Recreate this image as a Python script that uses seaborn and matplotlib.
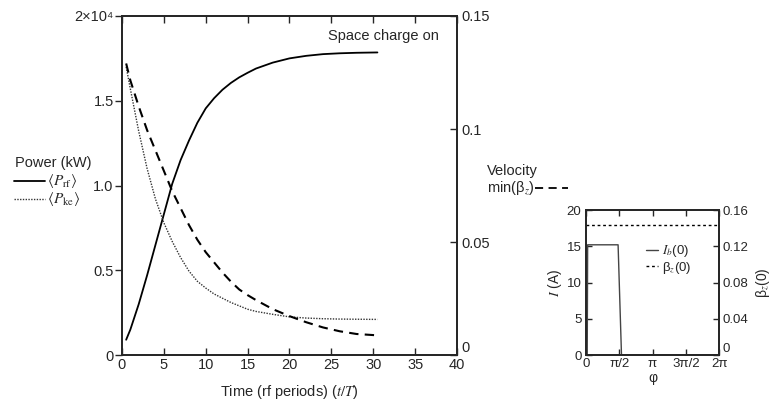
import numpy as np
import matplotlib
matplotlib.use("Agg")
import matplotlib.pyplot as plt
from matplotlib.lines import Line2D
import seaborn as sns

# Time in rf periods
t_rf = [0.5, 1.0, 2.0, 3.0, 4.0, 5.0, 6.0, 7.0, 8.0, 9.0, 10.0, 11.0, 12.0,
        13.0, 14.0, 15.0, 16.0, 18.0, 20.0, 22.0, 24.0, 26.0, 28.0, 30.5]
# <P_rf> in units of 10^4 kW
p_rf = [0.09, 0.15, 0.30, 0.47, 0.65, 0.83, 1.01, 1.15, 1.265, 1.37, 1.455, 1.515,
        1.565, 1.605, 1.638, 1.665, 1.69, 1.725, 1.75, 1.765, 1.775, 1.78, 1.783, 1.785]
# <P_ke> in units of 10^4 kW
p_ke = [1.70, 1.57, 1.32, 1.10, 0.92, 0.78, 0.67, 0.575, 0.495, 0.435, 0.395, 0.36,
        0.335, 0.31, 0.29, 0.27, 0.257, 0.24, 0.225, 0.218, 0.214, 0.212, 0.211, 0.21]
# min(beta_z)
beta_min = [0.129, 0.1215, 0.110, 0.0995, 0.0905, 0.0815, 0.0725, 0.065, 0.0575,
            0.051, 0.0455, 0.041, 0.0365, 0.0325, 0.029, 0.0265, 0.0243, 0.0203,
            0.0172, 0.0145, 0.0122, 0.0105, 0.0093, 0.0087]

# Initial beam current and velocity versus phase
phi_beam = [0.0, 0.07, 0.09, 1.52, 1.68, 2 * np.pi]
i_beam = [0.0, 0.0, 15.2, 15.2, 0.0, 0.0]
phi_beta = [0.0, 2 * np.pi]
beta_z0 = [0.143, 0.143]

time_ticks = [0, 5, 10, 15, 20, 25, 30, 35, 40]
power_ticks = [0, 0.5, 1.0, 1.5, 2.0]
power_labels = ["0", "0.5", "1.0", "1.5", "2×10⁴"]
vel_ticks = [0, 0.05, 0.1, 0.15]
vel_labels = ["0", "0.05", "0.1", "0.15"]
phi_ticks = [0, np.pi / 2, np.pi, 3 * np.pi / 2, 2 * np.pi]
phi_labels = ["0", "π/2", "π", "3π/2", "2π"]
cur_ticks = [0, 5, 10, 15, 20]
beta_ticks = [0, 0.04, 0.08, 0.12, 0.16]
beta_labels = ["0", "0.04", "0.08", "0.12", "0.16"]

sns.set_style("ticks")
plt.rcParams["font.family"] = ["Liberation Sans", "DejaVu Sans"]
plt.rcParams["mathtext.fontset"] = "stix"
plt.rcParams["axes.linewidth"] = 1.3

fig = plt.figure(figsize=(7.71, 4.03), dpi=100)

# ---- main panel ----
ax = fig.add_axes([0.1582, 0.1191, 0.4345, 0.8412])
ax2 = ax.twinx()

sns.lineplot(x=t_rf, y=p_rf, ax=ax, color="black", linewidth=1.3, estimator=None)
sns.lineplot(x=t_rf, y=p_ke, ax=ax, color="#333333", linewidth=1.0,
             linestyle=(0, (1, 1)), estimator=None)
sns.lineplot(x=t_rf, y=beta_min, ax=ax2, color="black", linewidth=1.5,
             linestyle=(0, (4.5, 3)), estimator=None)

ax.set_xlim(0, 40)
ax.set_ylim(0, 2)
ax2.set_ylim(0, 0.15)
ax.set_xticks(time_ticks)
ax.set_yticks(power_ticks)
ax.set_yticklabels(power_labels)
ax2.set_yticks(vel_ticks)
ax2.set_yticklabels(vel_labels)
ax.tick_params(axis="x", direction="in", top=True, length=5, width=1, pad=2,
               labelsize=10.5)
ax.tick_params(axis="y", direction="out", length=5, width=1, pad=1, labelsize=10.5)
ax2.tick_params(axis="y", direction="in", length=5, width=1, pad=3, labelsize=10.5)
ax.set_xlabel("Time (rf periods) ($t/T$)", fontsize=10.5, labelpad=8)
ax.set_ylabel("")
ax2.set_ylabel("")

ax.text(0.615, 0.941, "Space charge on", transform=ax.transAxes,
        fontsize=10.5, va="center", ha="left")

# left key: power curves
fig.text(15 / 771, 1 - 163 / 403, "Power (kW)", fontsize=10.5, va="center")
fig.add_artist(Line2D([14 / 771, 45 / 771], [1 - 181 / 403] * 2,
                      transform=fig.transFigure, color="black", linewidth=1.3))
fig.text(47 / 771, 1 - 181 / 403, r"$\langle P_{\mathrm{rf}}\rangle$",
         fontsize=11, va="center")
fig.add_artist(Line2D([14 / 771, 45 / 771], [1 - 199 / 403] * 2,
                      transform=fig.transFigure, color="#333333", linewidth=1.0,
                      linestyle=(0, (1, 1))))
fig.text(47 / 771, 1 - 199 / 403, r"$\langle P_{\mathrm{ke}}\rangle$",
         fontsize=11, va="center")

# right key: velocity curve
fig.text(487 / 771, 1 - 171 / 403, "Velocity", fontsize=10.5, va="center")
fig.text(487 / 771, 1 - 188 / 403, "min(β$_z$)", fontsize=10.5, va="center")
fig.add_artist(Line2D([535 / 771, 568 / 771], [1 - 188 / 403] * 2,
                      transform=fig.transFigure, color="black", linewidth=1.3,
                      linestyle=(0, (4.5, 3))))

# ---- inset panel ----
ax3 = fig.add_axes([0.7597, 0.1191, 0.1735, 0.3598])
ax4 = ax3.twinx()

sns.lineplot(x=phi_beam, y=i_beam, ax=ax3, color="#444444", linewidth=1.0,
             estimator=None, sort=False)
sns.lineplot(x=phi_beta, y=beta_z0, ax=ax4, color="black", linewidth=1.0,
             linestyle=(0, (2, 2)), estimator=None)

ax3.set_xlim(0, 2 * np.pi)
ax3.set_ylim(0, 20)
ax4.set_ylim(0, 0.16)
ax3.set_xticks(phi_ticks)
ax3.set_xticklabels(phi_labels)
ax3.set_yticks(cur_ticks)
ax4.set_yticks(beta_ticks)
ax4.set_yticklabels(beta_labels)
ax3.tick_params(axis="x", direction="in", top=True, length=4, width=1, pad=2,
                labelsize=9.5)
ax3.tick_params(axis="y", direction="in", length=4, width=1, pad=3, labelsize=9.5)
ax4.tick_params(axis="y", direction="in", length=4, width=1, pad=2, labelsize=9.5)
ax3.set_xlabel("φ", fontsize=10, labelpad=1)
ax3.set_ylabel("$I$ (A)", fontsize=10, labelpad=2)
ax4.set_ylabel("β$_z$(0)", fontsize=10, labelpad=4)

# lift the zero labels on the right-hand axes clear of the x tick labels
for lbl in (ax2.get_yticklabels()[0], ax4.get_yticklabels()[0]):
    lbl.set_verticalalignment("bottom")

h1 = ax3.get_lines()[0]
h2 = ax4.get_lines()[0]
ax4.legend([h1, h2], ["$I_b$(0)", "β$_z$(0)"], loc="upper left",
           bbox_to_anchor=(0.45, 0.77), frameon=False, fontsize=9.5,
           handlelength=0.9, handletextpad=0.3, labelspacing=0.05,
           borderaxespad=0, borderpad=0)

fig.savefig("out.png", dpi=100)
